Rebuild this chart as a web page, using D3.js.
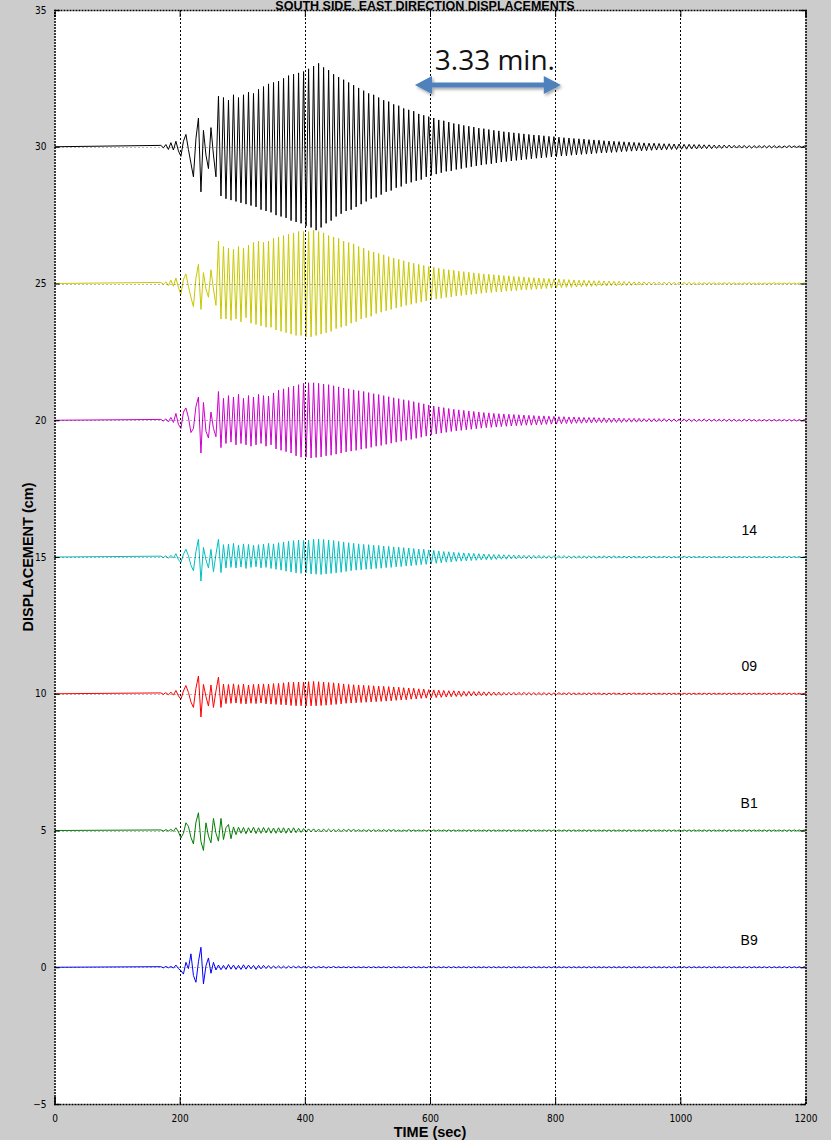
<!DOCTYPE html>
<html>
<head>
<meta charset="utf-8">
<script src="https://cdn.jsdelivr.net/npm/d3@7"></script>
<style>
  html, body { margin: 0; padding: 0; background: #cccccc; }
  svg { display: block; }
</style>
</head>
<body>
<svg id="chart" width="831" height="1140"></svg>
<script>
// ---------------- DATA ----------------
const title = "SOUTH SIDE, EAST DIRECTION DISPLACEMENTS";
const xTicks = [0, 200, 400, 600, 800, 1000, 1200];
const yTicks = [-5, 0, 5, 10, 15, 20, 25, 30, 35];
const gridX = [200, 400, 600, 800, 1000];
const gridY = [0, 5, 10, 15, 20, 25, 30];
const traceNames = ["", "", "", "14", "09", "B1", "B9"];
const traceOffsets = [30, 25, 20, 15, 10, 5, 0];
const traceColors = ["#000000", "#c8c800", "#cc00cc", "#00bfbf", "#ff0000", "#007f00", "#0000ff"];
// sampling grid of the recorded extremes (seconds)
const t0 = 170, dt = 4;
const annotationText = "3.33 min.";
const arrowFrom = 576, arrowTo = 809;

// displacement (cm) relative to each trace's offset
const black = [
.05,-.04,.08,-.1,.15,-.12,.2,-.15,-.35,.2,
.45,-.1,-.6,-1.1,.3,1.05,-1.65,.6,-.3,-.8,
.7,-.3,-1.1,1.85,-1.8,1.8,-1.9,1.7,-1.95,1.9,
-2.0,1.8,-2.05,1.9,-2.1,2.0,-2.15,1.95,-2.2,2.1,
-2.3,2.2,-2.35,2.3,-2.4,2.35,-2.5,2.4,-2.55,2.5,
-2.6,2.6,-2.7,2.65,-2.75,2.7,-2.8,2.75,-2.9,2.85,
-2.95,2.95,-3.05,3.05,-2.95,2.9,-2.8,2.8,-2.7,2.65,
-2.55,2.55,-2.45,2.45,-2.35,2.35,-2.3,2.25,-2.2,2.15,
-2.1,2.05,-2.0,1.95,-1.9,1.9,-1.85,1.8,-1.75,1.7,
-1.65,1.65,-1.6,1.55,-1.5,1.5,-1.45,1.4,-1.35,1.35,
-1.3,1.3,-1.25,1.2,-1.2,1.15,-1.1,1.1,-1.05,1.05,
-1.0,.98,-.95,.95,-.9,.9,-.88,.85,-.83,.82,
-.8,.78,-.76,.75,-.73,.72,-.7,.68,-.67,.66,
-.64,.63,-.62,.6,-.59,.58,-.56,.55,-.54,.53,
-.52,.51,-.5,.49,-.48,.47,-.46,.45,-.44,.43,
-.42,.42,-.41,.4,-.39,.38,-.37,.37,-.36,.35,
-.34,.33,-.33,.32,-.31,.3,-.3,.29,-.28,.28,
-.27,.26,-.26,.25,-.24,.24,-.23,.22,-.22,.21,
-.21,.2,-.2,.19,-.18,.18,-.17,.17,-.16,.16,
-.15,.15,-.15,.14,-.14,.13,-.13,.13,-.12,.12,
-.12,.11,-.11,.11,-.1,.1,-.1,.1,-.09,.09,
-.09,.09,-.08,.08,-.08,.08,-.07,.07,-.07,.07,
-.07,.06,-.06,.06,-.06,.06,-.05,.06,-.05,.05,
-.05,.05,-.05,.05,-.05,.04,-.05,.04,-.04,.04,
-.04,.04,-.04,.04,-.04,.04,-.04,.03,-.04,.03,
-.03,.04,-.03,.03,-.03,.03,-.03,.03
];
const yellow = [
.04,-.03,.06,-.08,.12,-.1,.2,-.15,-.4,.15,
.35,-.1,-.5,-.85,.2,.7,-.95,.4,-.2,-.5,
.5,-.2,-.8,1.55,-1.3,1.35,-1.3,1.3,-1.35,1.25,
-1.3,1.35,-1.4,1.3,-1.25,1.4,-1.45,1.5,-1.5,1.55,
-1.55,1.5,-1.6,1.55,-1.6,1.65,-1.7,1.7,-1.75,1.75,
-1.8,1.8,-1.85,1.85,-1.9,1.9,-1.9,1.9,-1.95,1.9,
-1.95,1.95,-1.9,1.9,-1.85,1.85,-1.8,1.75,-1.75,1.7,
-1.65,1.65,-1.6,1.55,-1.55,1.5,-1.45,1.45,-1.4,1.35,
-1.3,1.3,-1.25,1.2,-1.2,1.15,-1.1,1.1,-1.05,1.05,
-1.0,.98,-.95,.93,-.9,.88,-.85,.83,-.8,.78,
-.76,.74,-.72,.7,-.68,.66,-.64,.62,-.6,.59,
-.57,.56,-.54,.53,-.51,.5,-.49,.48,-.46,.45,
-.44,.43,-.42,.41,-.4,.39,-.38,.37,-.36,.35,
-.34,.34,-.33,.32,-.31,.31,-.3,.29,-.28,.28,
-.27,.26,-.26,.25,-.24,.24,-.23,.22,-.22,.21,
-.21,.2,-.2,.19,-.18,.18,-.17,.17,-.16,.16,
-.15,.15,-.14,.14,-.14,.13,-.13,.12,-.12,.12,
-.11,.11,-.11,.1,-.1,.1,-.09,.09,-.09,.09,
-.08,.08,-.08,.08,-.07,.07,-.07,.07,-.07,.06,
-.06,.06,-.06,.06,-.05,.05,-.05,.05,-.05,.05,
-.05,.05,-.04,.05,-.04,.04,-.04,.04,-.04,.04,
-.04,.04,-.04,.03,-.04,.03,-.03,.03,-.03,.03,
-.03,.03,-.03,.03,-.03,.03,-.03,.03,-.03,.03,
-.03,.02,-.03,.03,-.02,.03,-.03,.02,-.03,.02,
-.03,.02,-.03,.02,-.02,.03,-.02,.02,-.02,.02,
-.02,.02,-.02,.02,-.02,.02,-.02,.02
];
const magenta = [
.03,-.03,.05,-.06,.1,-.08,.25,-.15,-.3,.3,
.45,.1,-.45,-.3,.5,.85,-1.2,.65,-.4,-.65,
.3,-.3,-.6,1.05,-1.0,.8,-.85,.9,-.8,.85,
-.9,.95,-.85,.8,-.9,.9,-.95,.85,-.9,.95,
-.85,.9,-.95,.88,-.9,1.0,-1.05,1.1,-1.1,1.15,
-1.15,1.2,-1.2,1.25,-1.3,1.3,-1.35,1.35,-1.35,1.37,
-1.38,1.37,-1.36,1.35,-1.34,1.32,-1.3,1.3,-1.28,1.26,
-1.24,1.22,-1.2,1.18,-1.16,1.15,-1.13,1.11,-1.1,1.08,
-1.06,1.05,-1.03,1.01,-.99,.97,-.95,.94,-.92,.9,
-.88,.86,-.84,.82,-.8,.79,-.77,.75,-.73,.72,
-.7,.68,-.66,.64,-.62,.6,-.58,.56,-.54,.52,
-.5,.49,-.47,.46,-.44,.43,-.41,.4,-.39,.38,
-.37,.36,-.35,.34,-.33,.32,-.31,.3,-.29,.28,
-.27,.27,-.26,.25,-.25,.24,-.23,.23,-.22,.22,
-.21,.21,-.2,.2,-.19,.19,-.18,.18,-.18,.17,
-.17,.16,-.16,.16,-.15,.15,-.14,.14,-.14,.13,
-.13,.13,-.12,.12,-.12,.12,-.11,.11,-.11,.1,
-.1,.1,-.1,.1,-.09,.09,-.09,.09,-.09,.08,
-.08,.08,-.08,.08,-.08,.07,-.07,.07,-.07,.07,
-.07,.07,-.06,.06,-.06,.06,-.06,.06,-.06,.06,
-.05,.06,-.05,.05,-.05,.05,-.05,.05,-.05,.05,
-.05,.05,-.05,.04,-.05,.04,-.04,.05,-.04,.04,
-.04,.04,-.04,.04,-.04,.04,-.04,.04,-.04,.04,
-.04,.03,-.04,.04,-.03,.04,-.03,.03,-.04,.03,
-.03,.03,-.03,.03,-.03,.03,-.03,.03,-.03,.03,
-.03,.03,-.03,.03,-.03,.03,-.03,.03
];
const cyan = [
.03,-.02,.04,-.05,.06,-.04,.12,-.1,-.2,.1,
.28,.05,-.3,-.5,.2,.65,-.88,.35,-.1,-.4,
.28,-.54,.1,.65,-.57,.45,-.4,.47,-.38,.5,
-.4,.44,-.37,.48,-.42,.46,-.38,.43,-.36,.45,
-.4,.47,-.38,.5,-.42,.48,-.45,.52,-.48,.55,
-.52,.58,-.55,.6,-.58,.62,-.6,.6,-.58,.62,
-.62,.65,-.63,.66,-.64,.64,-.62,.62,-.6,.6,
-.58,.57,-.56,.55,-.53,.52,-.5,.5,-.48,.48,
-.47,.46,-.45,.45,-.44,.43,-.42,.42,-.41,.4,
-.39,.39,-.38,.37,-.36,.36,-.35,.34,-.33,.33,
-.32,.31,-.3,.29,-.28,.28,-.27,.26,-.25,.24,
-.23,.22,-.21,.2,-.19,.19,-.18,.17,-.16,.16,
-.15,.15,-.14,.14,-.13,.13,-.12,.12,-.11,.11,
-.1,.1,-.1,.09,-.09,.09,-.08,.08,-.08,.08,
-.07,.07,-.07,.07,-.06,.06,-.06,.06,-.06,.06,
-.05,.06,-.05,.05,-.05,.05,-.05,.05,-.04,.05,
-.04,.05,-.04,.04,-.04,.04,-.04,.04,-.04,.04,
-.04,.04,-.03,.04,-.04,.03,-.03,.04,-.03,.03,
-.03,.04,-.03,.03,-.03,.03,-.03,.03,-.03,.03,
-.03,.03,-.03,.02,-.03,.03,-.02,.03,-.03,.02,
-.02,.03,-.02,.02,-.03,.02,-.02,.02,-.02,.03,
-.02,.02,-.02,.02,-.02,.02,-.02,.02,-.02,.02,
-.02,.02,-.02,.02,-.02,.02,-.02,.02,-.02,.02,
-.02,.02,-.02,.02,-.02,.02,-.02,.02,-.02,.02,
-.02,.02,-.02,.02,-.02,.02,-.02,.02,-.02,.02,
-.02,.02,-.02,.02,-.02,.02,-.02,.02
];
const red = [
.03,-.02,.04,-.04,.06,-.05,.12,-.08,-.2,.1,
.3,.05,-.3,-.5,.2,.65,-.85,.34,-.1,-.45,
.32,-.5,.1,.61,-.5,.35,-.36,.34,-.35,.36,
-.34,.33,-.36,.35,-.37,.32,-.35,.34,-.36,.35,
-.34,.36,-.37,.35,-.38,.37,-.39,.38,-.4,.4,
-.41,.42,-.43,.42,-.44,.43,-.44,.43,-.45,.44,
-.44,.45,-.44,.44,-.43,.43,-.42,.41,-.4,.4,
-.39,.38,-.37,.36,-.35,.34,-.34,.33,-.33,.32,
-.32,.31,-.31,.3,-.3,.29,-.29,.28,-.28,.27,
-.27,.26,-.26,.25,-.24,.24,-.23,.22,-.22,.21,
-.2,.2,-.19,.18,-.17,.17,-.16,.15,-.15,.14,
-.14,.13,-.13,.12,-.12,.11,-.11,.11,-.1,.1,
-.1,.09,-.09,.09,-.08,.08,-.08,.08,-.07,.07,
-.07,.07,-.06,.06,-.06,.06,-.06,.05,-.05,.05,
-.05,.05,-.05,.05,-.04,.05,-.04,.04,-.04,.04,
-.04,.04,-.04,.04,-.04,.03,-.04,.03,-.03,.04,
-.03,.03,-.03,.04,-.03,.03,-.03,.03,-.03,.03,
-.03,.03,-.03,.03,-.02,.03,-.03,.02,-.03,.02,
-.02,.03,-.02,.02,-.03,.02,-.02,.02,-.02,.03,
-.02,.02,-.02,.02,-.02,.02,-.02,.02,-.02,.02,
-.02,.02,-.02,.02,-.02,.02,-.02,.02,-.02,.02,
-.02,.02,-.02,.02,-.02,.02,-.02,.02,-.02,.02,
-.02,.02,-.02,.02,-.02,.02,-.02,.02,-.02,.02,
-.02,.02,-.02,.02,-.02,.02,-.02,.02,-.02,.02,
-.02,.02,-.02,.02,-.02,.02,-.02,.02,-.02,.02,
-.02,.02,-.02,.02,-.02,.02,-.02,.02
];
const green = [
.02,-.02,.03,-.02,.04,-.03,.1,-.05,-.27,-.1,
.28,.15,-.25,-.49,.3,.65,-.4,-.73,.28,-.2,
-.45,.44,-.1,-.39,.44,-.33,.1,.22,-.3,.13,
-.15,.12,-.1,.11,-.12,.1,-.09,.12,-.11,.1,
-.1,.11,-.09,.1,-.1,.09,-.1,.1,-.09,.1,
-.1,.09,-.09,.1,-.08,.08,-.07,.07,-.06,.06,
-.05,.06,-.05,.05,-.05,.05,-.04,.05,-.04,.04,
-.04,.04,-.04,.04,-.03,.04,-.03,.04,-.03,.03,
-.03,.03,-.03,.03,-.03,.03,-.03,.03,-.03,.03,
-.03,.03,-.02,.03,-.03,.02,-.03,.02,-.02,.03,
-.02,.02,-.02,.02,-.02,.02,-.02,.02,-.02,.02,
-.02,.02,-.02,.02,-.02,.02,-.02,.02,-.02,.02,
-.02,.02,-.02,.02,-.02,.02,-.02,.02,-.02,.02,
-.02,.02,-.02,.02,-.02,.02,-.02,.02,-.02,.02,
-.02,.02,-.02,.02,-.02,.02,-.02,.02,-.02,.02,
-.02,.02,-.02,.02,-.02,.02,-.02,.02,-.02,.02,
-.02,.02,-.02,.02,-.02,.02,-.02,.02,-.02,.02,
-.02,.02,-.02,.02,-.02,.02,-.02,.02,-.02,.02,
-.02,.02,-.02,.02,-.02,.02,-.02,.02,-.02,.02,
-.02,.02,-.02,.02,-.02,.02,-.02,.02,-.02,.02,
-.02,.02,-.02,.02,-.02,.02,-.02,.02,-.02,.02,
-.02,.02,-.02,.02,-.02,.02,-.02,.02,-.02,.02,
-.02,.02,-.02,.02,-.02,.02,-.02,.02,-.02,.02,
-.02,.02,-.02,.02,-.02,.02,-.02,.02,-.02,.02,
-.02,.02,-.02,.02,-.02,.02,-.02,.02,-.02,.02,
-.02,.02,-.02,.02,-.02,.02,-.02,.02
];
const blue = [
.02,-.02,.03,-.02,.03,-.03,.08,-.05,-.12,-.25,
.18,-.05,.49,-.3,-.55,.2,.73,-.61,.05,.34,
-.22,.18,-.1,.08,-.09,.07,-.08,.1,-.07,.08,
-.08,.07,-.08,.09,-.07,.08,-.06,.07,-.08,.07,
-.06,.07,-.05,.06,-.05,.05,-.04,.05,-.04,.04,
-.04,.04,-.03,.04,-.03,.04,-.03,.03,-.03,.03,
-.03,.03,-.03,.03,-.02,.03,-.03,.02,-.02,.03,
-.02,.02,-.02,.02,-.02,.02,-.02,.02,-.02,.02,
-.02,.02,-.02,.02,-.02,.02,-.02,.02,-.02,.02,
-.02,.02,-.02,.02,-.02,.02,-.02,.02,-.02,.02,
-.02,.02,-.02,.02,-.02,.02,-.02,.02,-.02,.02,
-.02,.02,-.02,.02,-.02,.02,-.02,.02,-.02,.02,
-.02,.02,-.02,.02,-.02,.02,-.02,.02,-.02,.02,
-.02,.02,-.02,.02,-.02,.02,-.02,.02,-.02,.02,
-.02,.02,-.02,.02,-.02,.02,-.02,.02,-.02,.02,
-.02,.02,-.02,.02,-.02,.02,-.02,.02,-.02,.02,
-.02,.02,-.02,.02,-.02,.02,-.02,.02,-.02,.02,
-.02,.02,-.02,.02,-.02,.02,-.02,.02,-.02,.02,
-.02,.02,-.02,.02,-.02,.02,-.02,.02,-.02,.02,
-.02,.02,-.02,.02,-.02,.02,-.02,.02,-.02,.02,
-.02,.02,-.02,.02,-.02,.02,-.02,.02,-.02,.02,
-.02,.02,-.02,.02,-.02,.02,-.02,.02,-.02,.02,
-.02,.02,-.02,.02,-.02,.02,-.02,.02,-.02,.02,
-.02,.02,-.02,.02,-.02,.02,-.02,.02,-.02,.02,
-.02,.02,-.02,.02,-.02,.02,-.02,.02,-.02,.02,
-.02,.02,-.02,.02,-.02,.02,-.02,.02
];
const traceValues = [black, yellow, magenta, cyan, red, green, blue];

// ---------------- DRAW ----------------
const svg = d3.select("#chart");
const W = 831, H = 1140;
const m = { left: 54.5, right: 25.5, top: 10, bottom: 36 };
const x = d3.scaleLinear().domain([0, 1200]).range([m.left, W - m.right]);
const y = d3.scaleLinear().domain([-5, 35]).range([H - m.bottom, m.top]);
const tickFont = "'Liberation Sans Narrow', 'DejaVu Sans Condensed', 'Liberation Sans', sans-serif";

svg.append("rect").attr("width", W).attr("height", H).attr("fill", "#cccccc");

// title (sits just above the plot frame)
svg.append("text").attr("x", 425).attr("y", 10)
  .attr("text-anchor", "middle").attr("font-family", "'Liberation Sans', Arial, sans-serif")
  .attr("font-weight", "bold").attr("font-size", 12.5).attr("fill", "#000")
  .text(title);

// plot area
svg.append("rect")
  .attr("x", x(0)).attr("y", y(35))
  .attr("width", x(1200) - x(0)).attr("height", y(-5) - y(35))
  .attr("fill", "#ffffff");

// clip
svg.append("clipPath").attr("id", "clip").append("rect")
  .attr("x", x(0)).attr("y", y(35))
  .attr("width", x(1200) - x(0)).attr("height", y(-5) - y(35));

// traces
const line = d3.line().x(d => x(d[0])).y(d => y(d[1]));
const gTr = svg.append("g").attr("clip-path", "url(#clip)");
traceValues.forEach((vals, k) => {
  const off = traceOffsets[k];
  const pts = [[0, off]];
  vals.forEach((v, i) => pts.push([t0 + i * dt, off + v]));
  pts.push([t0 + vals.length * dt, off]);
  pts.push([1200, off]);
  gTr.append("path").attr("d", line(pts))
    .attr("fill", "none").attr("stroke", traceColors[k])
    .attr("stroke-width", 1).attr("stroke-linejoin", "miter");
});

// grid (dotted)
const gGrid = svg.append("g");
gridX.forEach(v => {
  gGrid.append("line").attr("x1", Math.round(x(v)) + 0.5).attr("x2", Math.round(x(v)) + 0.5)
    .attr("y1", y(35)).attr("y2", y(-5))
    .attr("stroke", "#000").attr("stroke-width", 1).attr("stroke-dasharray", "2,2");
});
gridY.forEach(v => {
  gGrid.append("line").attr("x1", x(0)).attr("x2", x(1200))
    .attr("y1", Math.round(y(v)) + 0.5).attr("y2", Math.round(y(v)) + 0.5)
    .attr("stroke", "#000").attr("stroke-width", 0.8).attr("stroke-dasharray", "1,3")
    .attr("opacity", 0.7);
});

// axes
const axB = d3.axisBottom(x).tickValues(xTicks).tickSize(-7).tickPadding(11).tickFormat(d3.format("d"));
const axT = d3.axisTop(x).tickValues(xTicks).tickSize(-7).tickFormat("");
const axL = d3.axisLeft(y).tickValues(yTicks).tickSize(-5).tickPadding(8).tickFormat(d3.format("d"));
const axR = d3.axisRight(y).tickValues(yTicks).tickSize(-5).tickFormat("");
function styleAxis(g) {
  g.select(".domain").attr("stroke", "#000").attr("stroke-width", 1.5).attr("stroke-dasharray", "2,1");
  g.selectAll(".tick line").attr("stroke", "#000").attr("stroke-width", 1);
  g.selectAll(".tick text").attr("font-family", tickFont).attr("font-size", 10).attr("fill", "#000");
}
svg.append("g").attr("transform", `translate(0,${y(-5)})`).call(axB).call(styleAxis);
svg.append("g").attr("transform", `translate(0,${y(35)})`).call(axT).call(styleAxis);
svg.append("g").attr("transform", `translate(${x(0)},0)`).call(axL).call(styleAxis);
svg.append("g").attr("transform", `translate(${x(1200)},0)`).call(axR).call(styleAxis);

// axis titles
svg.append("text").attr("x", x(600)).attr("y", 1137)
  .attr("text-anchor", "middle").attr("font-family", "'Liberation Sans', Arial, sans-serif")
  .attr("font-weight", "bold").attr("font-size", 14.5).attr("fill", "#000")
  .text("TIME (sec)");
svg.append("text").attr("transform", `translate(33,${y(15)}) rotate(-90)`)
  .attr("text-anchor", "middle").attr("font-family", "'Liberation Sans', Arial, sans-serif")
  .attr("font-weight", "bold").attr("font-size", 14.5).attr("fill", "#000")
  .text("DISPLACEMENT (cm)");

// trace labels
traceNames.forEach((n, k) => {
  if (!n) return;
  svg.append("text").attr("x", x(1110)).attr("y", y(traceOffsets[k] + 1.0) + 5)
    .attr("text-anchor", "middle").attr("font-family", "'Liberation Sans', Arial, sans-serif")
    .attr("font-size", 14).attr("fill", "#000").text(n);
});

// annotation arrow
const defs = svg.append("defs");
const f = defs.append("filter").attr("id", "sh").attr("x", "-10%").attr("y", "-50%").attr("width", "130%").attr("height", "200%");
f.append("feDropShadow").attr("dx", 1.5).attr("dy", 2).attr("stdDeviation", 1.5).attr("flood-color", "#000").attr("flood-opacity", 0.35);
const ax0 = x(arrowFrom), ax1 = x(arrowTo), ay = 85, hl = 17, hh = 9, sh = 2.6;
const arrowPath = `M${ax0},${ay} L${ax0 + hl},${ay - hh} L${ax0 + hl},${ay - sh} L${ax1 - hl},${ay - sh} L${ax1 - hl},${ay - hh} L${ax1},${ay} L${ax1 - hl},${ay + hh} L${ax1 - hl},${ay + sh} L${ax0 + hl},${ay + sh} L${ax0 + hl},${ay + hh} Z`;
svg.append("path").attr("d", arrowPath).attr("fill", "#4f81bd").attr("filter", "url(#sh)");
svg.append("text").attr("x", (ax0 + ax1) / 2 + 7).attr("y", 70)
  .attr("text-anchor", "middle").attr("font-family", "'Open Sans', 'Liberation Sans', sans-serif")
  .attr("font-size", 28).attr("fill", "#111").text(annotationText);
</script>
</body>
</html>
